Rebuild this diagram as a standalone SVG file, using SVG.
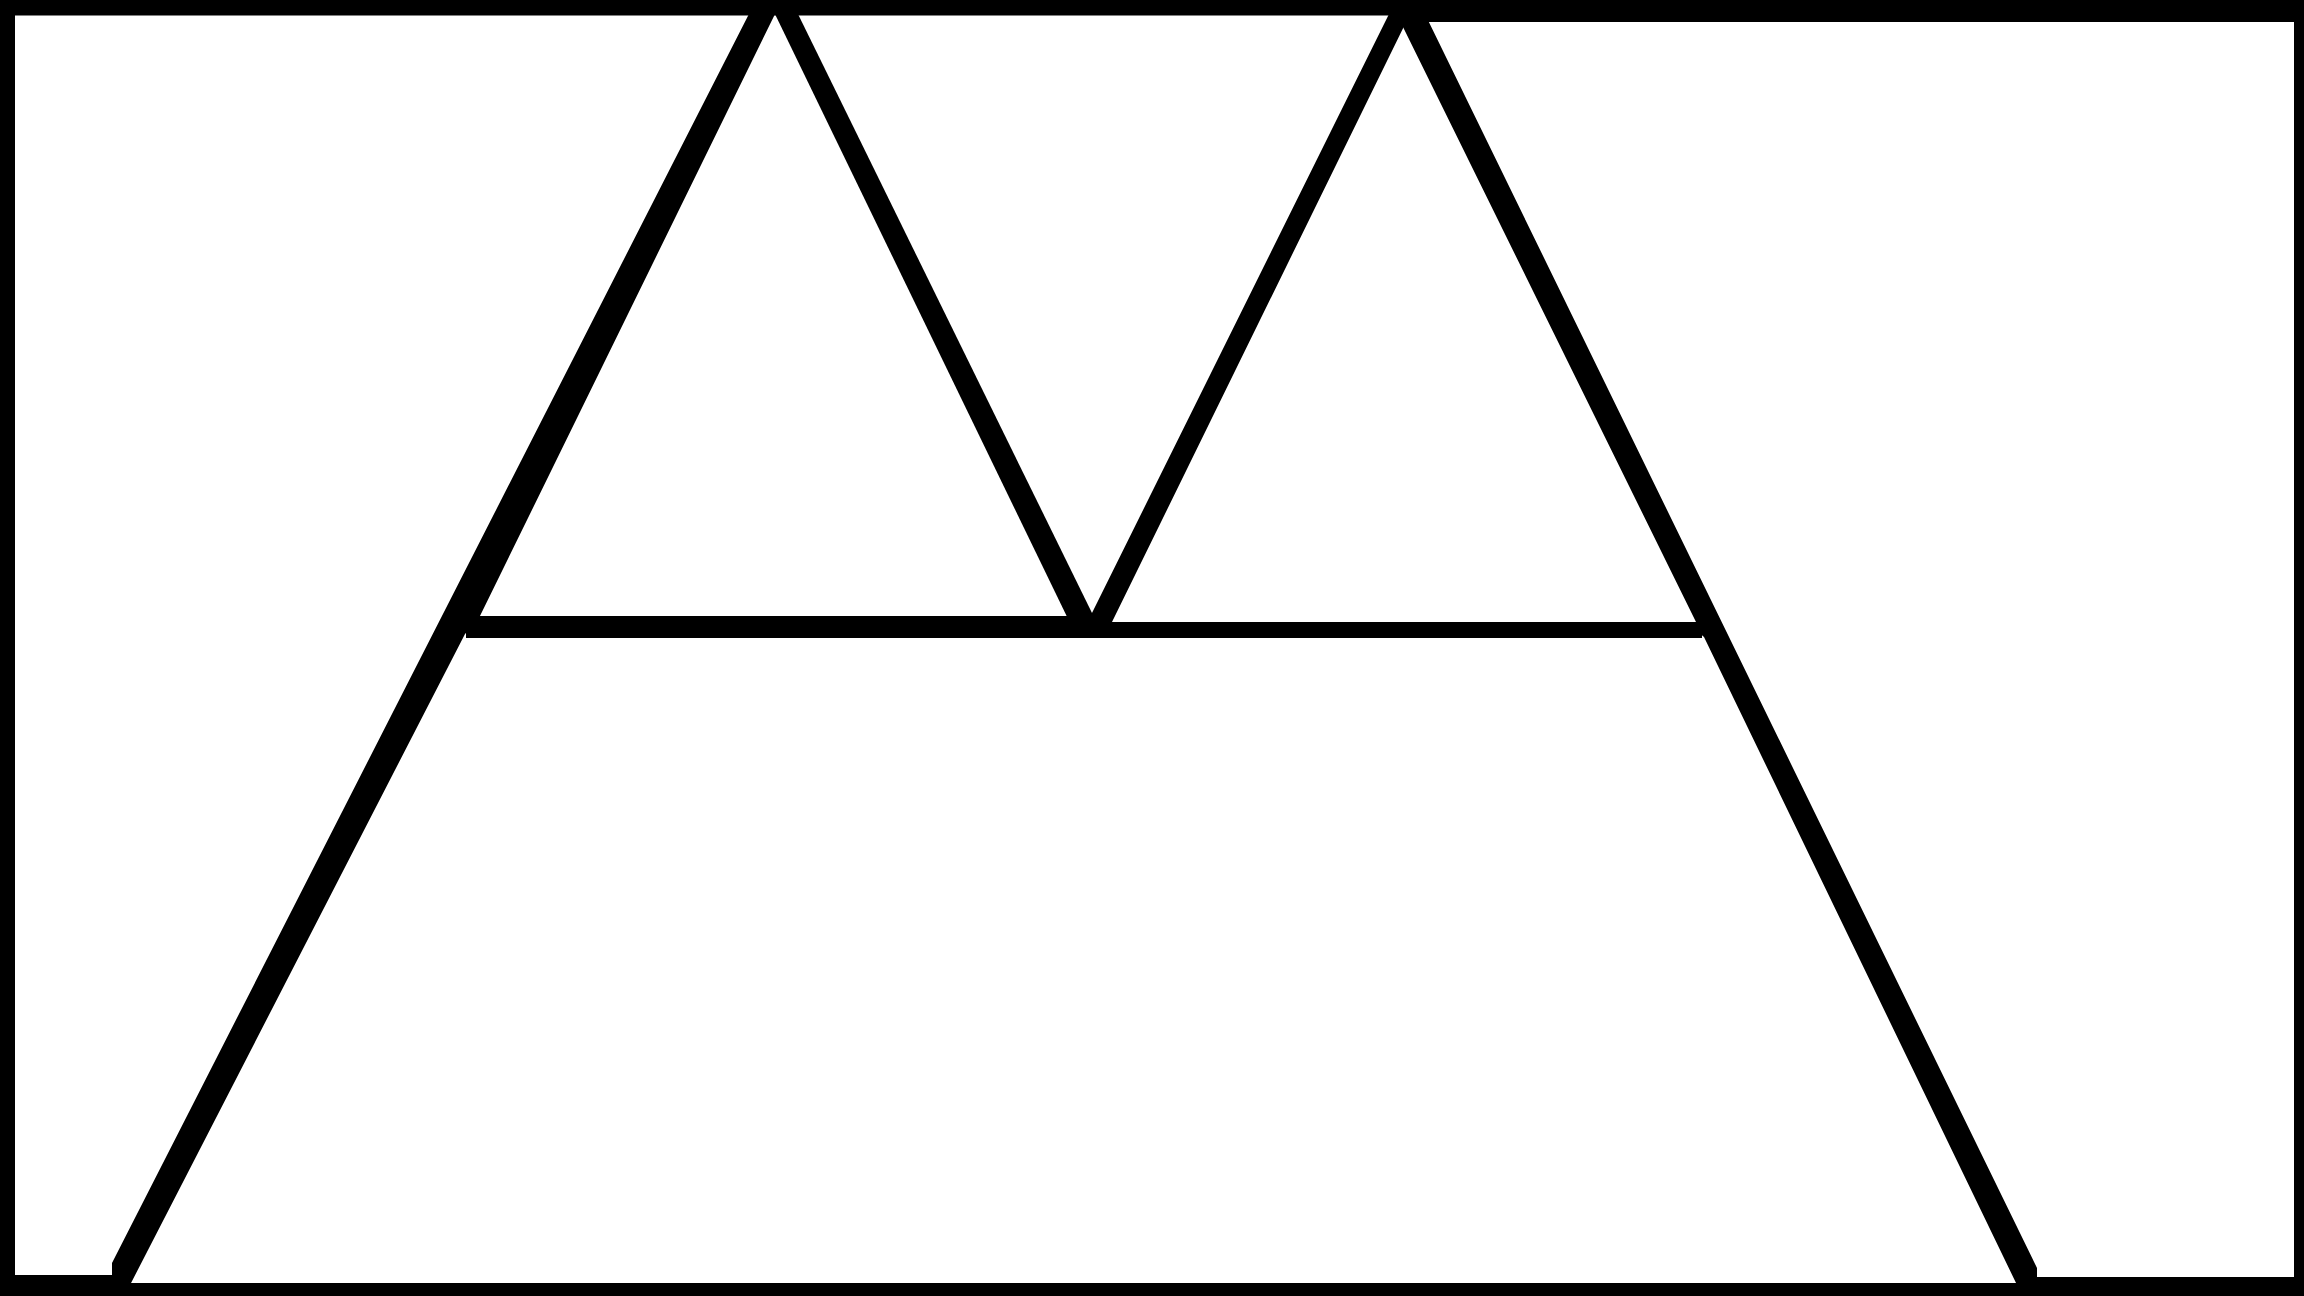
<svg xmlns="http://www.w3.org/2000/svg" width="2304" height="1296" viewBox="0 0 2304 1296">
<style>
.ink{fill:#000;stroke:none}
</style>
<rect x="0" y="0" width="2304" height="1296" fill="#fff"/>
<g id="frame" class="ink">
<rect x="0" y="0" width="1412" height="15.5"/>
<rect x="1400" y="0" width="904" height="22"/>
<rect x="0" y="0" width="15" height="1296"/>
<rect x="2294" y="0" width="10" height="1296"/>
<rect x="0" y="1283" width="2304" height="13"/>
<rect x="0" y="1275" width="114" height="21"/>
<rect x="2030" y="1277" width="274" height="19"/>
</g>
<g id="shapes" class="ink">
<polygon id="lineA" points="751,10 777,10 478,620 465,634 130,1285 112,1285 112,1263"/>
<polygon id="lineB" points="773,10 796,10 1093,615 1093,625 1071,625"/>
<polygon id="lineC" points="1391,10 1412,10 1112,622 1112,630 1090,630 1091,615"/>
<polygon id="lineD" points="1395,10 1423,10 2037,1268 2037,1285 2017,1285 1704,637 1696,630 1696,622 1403,27"/>
<rect id="barLeft" x="466" y="616" width="634" height="22"/>
<rect id="barRight" x="1090" y="622" width="612" height="16"/>
</g>
</svg>
